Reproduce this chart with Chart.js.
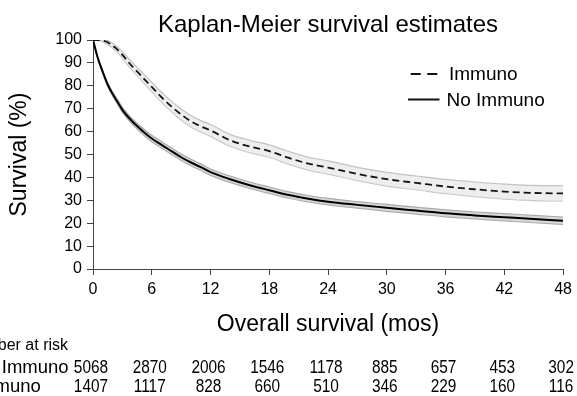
<!DOCTYPE html>
<html>
<head>
<meta charset="utf-8">
<script src="https://cdn.jsdelivr.net/npm/chart.js@4.4.1/dist/chart.umd.min.js"></script>
<style>
html,body{margin:0;padding:0;background:#fff;overflow:hidden}
#c{display:block}
</style>
</head>
<body>
<canvas id="c" width="577" height="396"></canvas>
<script>
// ---- data ----
const months = [0,0.5,1,1.5,2,2.5,3,4,5,6,7,8,9,10,11,12,14,16,18,20,22,24,27,30,33,36,39,42,45,48];
const immuno      = [100,100,99.7,99,97.5,95.8,93.5,88.5,84,79.5,75,71,67.5,64.5,62.3,60.5,56.2,53.5,51.5,48.5,46,44.3,41.5,39.2,37.6,36,34.8,33.8,33.2,33];
const immunoUpper = [100,100,100,99.8,98.5,97,94.9,90.2,85.9,81.6,77.2,73.3,69.9,67,64.8,63.1,58.8,56.2,54.2,51.3,48.8,47.2,44.4,42.2,40.6,39.1,38,37.1,36.5,36.4];
const immunoLower = [100,99.8,99.2,98.2,96.5,94.6,92.1,86.8,82.1,77.4,72.8,68.7,65.1,62,59.8,57.9,53.6,50.8,48.8,45.7,43.2,41.4,38.6,36.2,34.6,32.9,31.6,30.5,29.9,29.6];
const noImmuno      = [100,92,86,80.5,76.5,73,69.5,64.5,60.5,57,54.2,51.5,48.8,46.5,44.5,42.3,39.2,36.6,34.4,32.3,30.7,29.4,28,26.7,25.5,24.3,23.4,22.6,21.8,21.1];
const noImmunoUpper = [100,92.4,86.6,81.3,77.4,74,70.6,65.7,61.8,58.4,55.6,52.9,50.2,47.9,45.9,43.7,40.6,38,35.8,33.7,32.1,30.8,29.4,28.2,27,25.8,24.9,24.2,23.4,22.7];
const noImmunoLower = [100,91.6,85.4,79.7,75.6,72,68.4,63.3,59.2,55.6,52.8,50.1,47.4,45.1,43.1,40.9,37.8,35.2,33,30.9,29.3,28,26.6,25.2,24,22.8,21.9,21,20.2,19.5];

const xTicks = [0,6,12,18,24,30,36,42,48];
const yTicks = [0,10,20,30,40,50,60,70,80,90,100];

const riskTimes    = [0,6,12,18,24,30,36,42,48];
const riskNoImmuno = [5068,2870,2006,1546,1178,885,657,453,302];
const riskImmuno   = [1407,1117,828,660,510,346,229,160,116];

const seriesNames   = ['Immuno','No Immuno'];
const riskRowLabels = ['No Immuno','Immuno'];
const riskHeader    = 'Number at risk';
const chartTitle    = 'Kaplan-Meier survival estimates';
const xTitle        = 'Overall survival (mos)';
const yTitle        = 'Survival (%)';

// ---- build chart ----
const FONT = '"Liberation Sans", Arial, Helvetica, sans-serif';
const pts = arr => months.map((m, i) => ({x: m, y: arr[i]}));

const bandImmuno = {borderColor:'#c2c2c2', borderWidth:1.2, backgroundColor:'rgba(226,226,226,0.6)', pointRadius:0, cubicInterpolationMode:'monotone'};
const bandNoImmuno = {borderColor:'#a9a9a9', borderWidth:1.2, backgroundColor:'rgba(190,190,190,0.6)', pointRadius:0, cubicInterpolationMode:'monotone'};

const overlay = {
  id: 'overlay',
  afterDraw(chart) {
    const ctx = chart.ctx, ca = chart.chartArea, xs = chart.scales.x;
    ctx.save();
    ctx.fillStyle = '#000';
    ctx.textBaseline = 'alphabetic';
    // title
    ctx.textAlign = 'center';
    ctx.font = '24px ' + FONT;
    ctx.fillText(chartTitle, (ca.left + ca.right) / 2, 32);
    // x title
    ctx.font = '23px ' + FONT;
    ctx.fillText(xTitle, (ca.left + ca.right) / 2, 331);
    // y title
    ctx.save();
    ctx.translate(20, (ca.top + ca.bottom) / 2);
    ctx.rotate(-Math.PI / 2);
    ctx.textBaseline = 'middle';
    ctx.fillText(yTitle, 0, 0);
    ctx.restore();

    // legend
    ctx.strokeStyle = '#111';
    ctx.lineWidth = 1.8;
    ctx.setLineDash([10, 6.6]);
    ctx.beginPath(); ctx.moveTo(410.7, 74); ctx.lineTo(437.3, 74); ctx.stroke();
    ctx.setLineDash([]);
    ctx.lineWidth = 2;
    ctx.beginPath(); ctx.moveTo(408, 99.5); ctx.lineTo(439.5, 99.5); ctx.stroke();
    ctx.textAlign = 'left';
    ctx.font = '19px ' + FONT;
    ctx.fillText(seriesNames[0], 449, 79.5);
    ctx.fillText(seriesNames[1], 446.5, 106);

    // risk table
    ctx.font = '16px ' + FONT;
    ctx.fillText(riskHeader, -36, 350);
    ctx.font = '18.5px ' + FONT;
    ctx.fillText(riskRowLabels[0], -27, 372.5);
    ctx.fillText(riskRowLabels[1], -26, 391.5);
    ctx.font = '17.5px ' + FONT;
    ctx.textAlign = 'center';
    const rows = [[riskNoImmuno, 372.5], [riskImmuno, 391.5]];
    rows.forEach(([vals, y]) => {
      vals.forEach((v, i) => {
        const px = xs.getPixelForValue(riskTimes[i]) - 2;
        ctx.save();
        ctx.translate(px, y);
        ctx.scale(0.88, 1);
        ctx.fillText(String(v), 0, 0);
        ctx.restore();
      });
    });
    ctx.restore();
  }
};

new Chart(document.getElementById('c'), {
  type: 'line',
  data: {
    datasets: [
      {label: seriesNames[0], data: pts(immuno), borderColor:'#151515', borderWidth:1.8, borderDash:[7,4], pointRadius:0, fill:false, cubicInterpolationMode:'monotone'},
      {label: seriesNames[1], data: pts(noImmuno), borderColor:'#000', borderWidth:2, pointRadius:0, fill:false, cubicInterpolationMode:'monotone'},
      Object.assign({label:'Immuno upper', data: pts(immunoUpper), fill:'+1'}, bandImmuno),
      Object.assign({label:'Immuno lower', data: pts(immunoLower), fill:false}, bandImmuno),
      Object.assign({label:'No Immuno upper', data: pts(noImmunoUpper), fill:'+1'}, bandNoImmuno),
      Object.assign({label:'No Immuno lower', data: pts(noImmunoLower), fill:false}, bandNoImmuno)
    ]
  },
  options: {
    responsive: false,
    animation: false,
    devicePixelRatio: 1,
    layout: {padding: {left: 0, top: 40, right: 13, bottom: 100}},
    plugins: {legend: {display: false}, title: {display: false}, tooltip: {enabled: false}},
    scales: {
      x: {
        type: 'linear', min: 0, max: 48,
        afterBuildTicks: s => { s.ticks = xTicks.map(v => ({value: v})); },
        ticks: {font: {family: FONT, size: 16}, color: '#000', padding: 5, maxRotation: 0, autoSkip: false},
        grid: {display: true, drawOnChartArea: false, drawTicks: true, tickLength: 6, color: '#444', lineWidth: 1},
        border: {display: true, color: '#444', width: 1},
        afterFit: s => { s.height = 27; }
      },
      y: {
        type: 'linear', min: 0, max: 100,
        afterBuildTicks: s => { s.ticks = yTicks.map(v => ({value: v})); },
        ticks: {font: {family: FONT, size: 16}, color: '#000', padding: 5, autoSkip: false},
        grid: {display: true, drawOnChartArea: false, drawTicks: true, tickLength: 6, color: '#444', lineWidth: 1},
        border: {display: true, color: '#444', width: 1},
        afterFit: s => { s.width = 93; }
      }
    }
  },
  plugins: [overlay]
});
</script>
</body>
</html>
